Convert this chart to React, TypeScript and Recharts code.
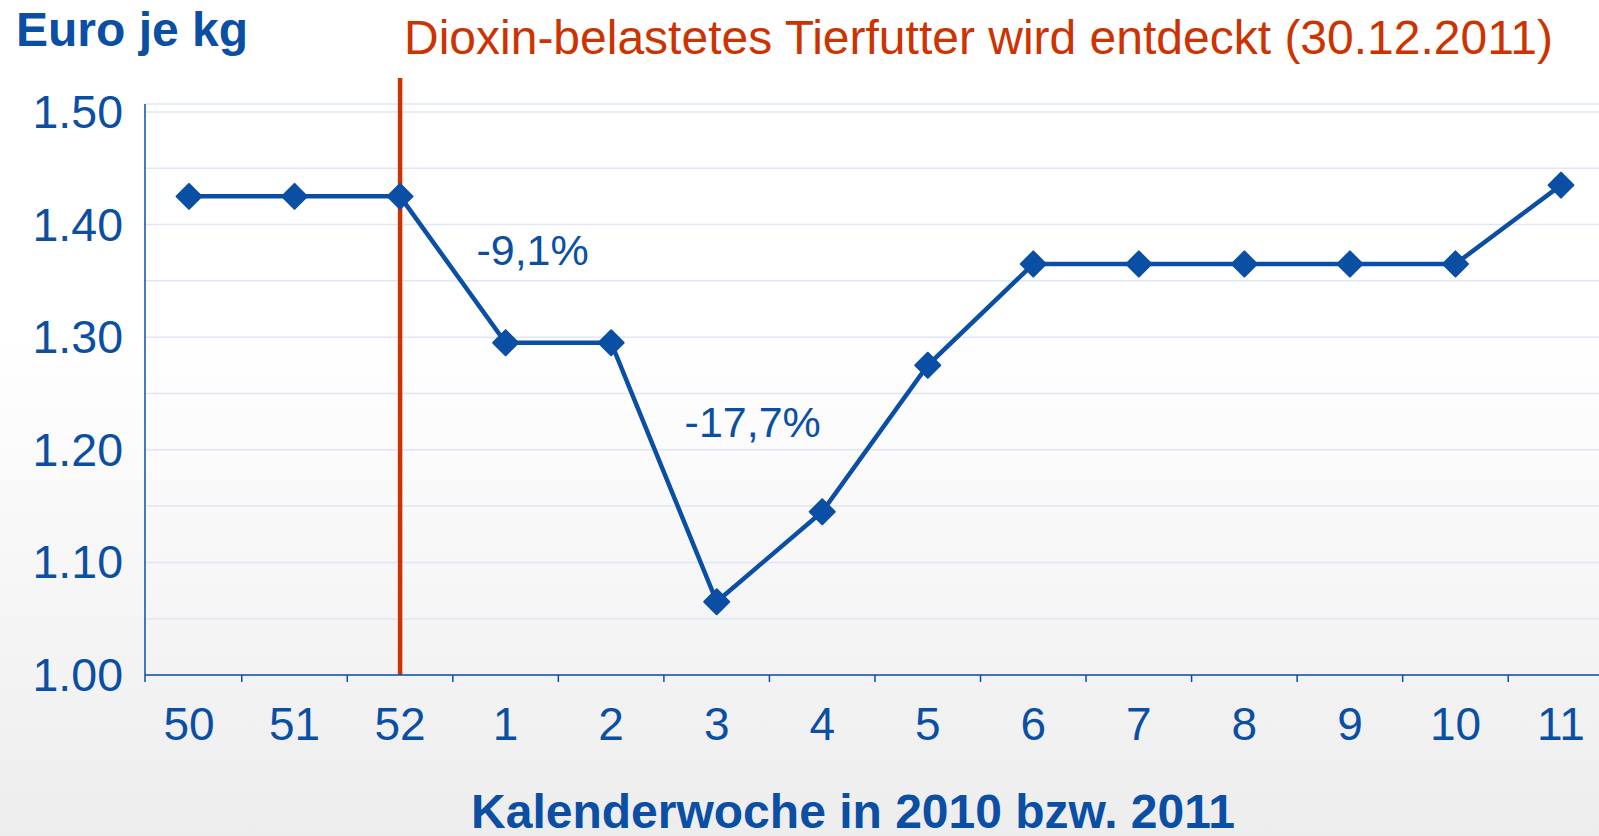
import {
  CartesianGrid,
  Line,
  LineChart,
  ReferenceDot,
  ReferenceLine,
  XAxis,
  YAxis,
} from 'recharts'

const weeks = ['50', '51', '52', '1', '2', '3', '4', '5', '6', '7', '8', '9', '10', '11']
const prices = [1.425, 1.425, 1.425, 1.295, 1.295, 1.065, 1.145, 1.275, 1.365, 1.365, 1.365, 1.365, 1.365, 1.435]
const gridTicks = [1.0, 1.05, 1.1, 1.15, 1.2, 1.25, 1.3, 1.35, 1.4, 1.45, 1.5]
const labelTicks = ['1.00', '1.10', '1.20', '1.30', '1.40', '1.50']

const eventWeek = '52'
const eventText = 'Dioxin-belastetes Tierfutter wird entdeckt (30.12.2011)'
const drops = [
  { week: '1', y: 1.364, text: '-9,1%', dx: 27 },
  { week: '3', y: 1.211, text: '-17,7%', dx: 36 },
]

const data = weeks.map((week, i) => ({ week, price: prices[i] }))

const BLUE = '#0a4fa3'
const RED = '#cc3300'
const FONT = '"Liberation Sans", Arial, sans-serif'

function Diamond({ cx, cy }: any) {
  if (cx == null || cy == null) return null
  const r = 12.5
  return (
    <path
      d={`M${cx},${cy - r} L${cx + r},${cy} L${cx},${cy + r} L${cx - r},${cy} Z`}
      fill={BLUE}
      stroke={BLUE}
      strokeWidth={2}
      strokeLinejoin="round"
    />
  )
}

function WeekTick({ x, y, payload, index }: any) {
  const back = index === 0 ? 44 : 52.8
  return (
    <g>
      <line x1={x - back} x2={x - back} y1={y} y2={y + 7} stroke={BLUE} strokeWidth={1.5} />
      <text x={x} y={y + 65} textAnchor="middle" fill={BLUE} fontSize={46} fontFamily={FONT}>
        {payload.value}
      </text>
    </g>
  )
}

function PriceTick({ x, y, payload }: any) {
  const label = payload.value.toFixed(2)
  if (!labelTicks.includes(label)) return null
  return (
    <text x={x - 22} y={y + 16} textAnchor="end" fill={BLUE} fontSize={46.5} fontFamily={FONT}>
      {label}
    </text>
  )
}

function DropLabel({ viewBox, value, dx }: any) {
  const cx = viewBox.x + viewBox.width / 2
  const cy = viewBox.y + viewBox.height / 2
  return (
    <text x={cx + dx} y={cy} textAnchor="middle" fill={BLUE} fontSize={43} fontFamily={FONT}>
      {value}
    </text>
  )
}

export default function App() {
  return (
    <div
      style={{
        width: 1599,
        height: 836,
        position: 'relative',
        background: 'linear-gradient(to bottom, #ffffff 0%, #ffffff 40%, #ededed 100%)',
        fontFamily: FONT,
      }}
    >
      <style>{'body{margin:0}'}</style>
      <LineChart
        width={1599}
        height={836}
        data={data}
        margin={{ top: 104, right: 0, bottom: 0, left: 0 }}
      >
        <CartesianGrid horizontal vertical={false} stroke="#dfe7f3" strokeWidth={1.5} />
        <XAxis
          dataKey="week"
          height={161}
          padding={{ left: 44, right: 38 }}
          stroke={BLUE}
          strokeWidth={1.5}
          tickLine={false}
          tickSize={0}
          tickMargin={0}
          interval={0}
          tick={<WeekTick />}
        />
        <YAxis
          width={145}
          domain={[1.0, 1.507]}
          ticks={gridTicks}
          allowDataOverflow
          stroke={BLUE}
          strokeWidth={1.5}
          tickLine={false}
          tickSize={0}
          tickMargin={0}
          interval={0}
          tick={<PriceTick />}
        />
        <ReferenceLine
          segment={[
            { x: eventWeek, y: 1.0 },
            { x: eventWeek, y: 1.53 },
          ]}
          stroke={RED}
          strokeWidth={4.5}
          ifOverflow="visible"
        />
        <Line
          dataKey="price"
          stroke={BLUE}
          strokeWidth={4.5}
          dot={<Diamond />}
          activeDot={false}
          isAnimationActive={false}
        />
        {drops.map((d) => (
          <ReferenceDot
            key={d.text}
            x={d.week}
            y={d.y}
            r={1}
            fill="none"
            stroke="none"
            label={<DropLabel value={d.text} dx={d.dx} />}
          />
        ))}
      </LineChart>
      <div
        style={{
          position: 'absolute',
          left: 16,
          top: 48 - 44,
          fontSize: 48,
          fontWeight: 'bold',
          color: BLUE,
          lineHeight: '52px',
        }}
      >
        Euro je kg
      </div>
      <div
        style={{
          position: 'absolute',
          left: 404,
          top: 57 - 45,
          fontSize: 48,
          color: RED,
          lineHeight: '52px',
          whiteSpace: 'nowrap',
        }}
      >
        {eventText}
      </div>
      <div
        style={{
          position: 'absolute',
          left: 0,
          width: 1706,
          top: 831 - 45,
          textAlign: 'center',
          fontSize: 48,
          fontWeight: 'bold',
          color: BLUE,
          lineHeight: '52px',
          whiteSpace: 'nowrap',
        }}
      >
        Kalenderwoche in 2010 bzw. 2011
      </div>
    </div>
  )
}
